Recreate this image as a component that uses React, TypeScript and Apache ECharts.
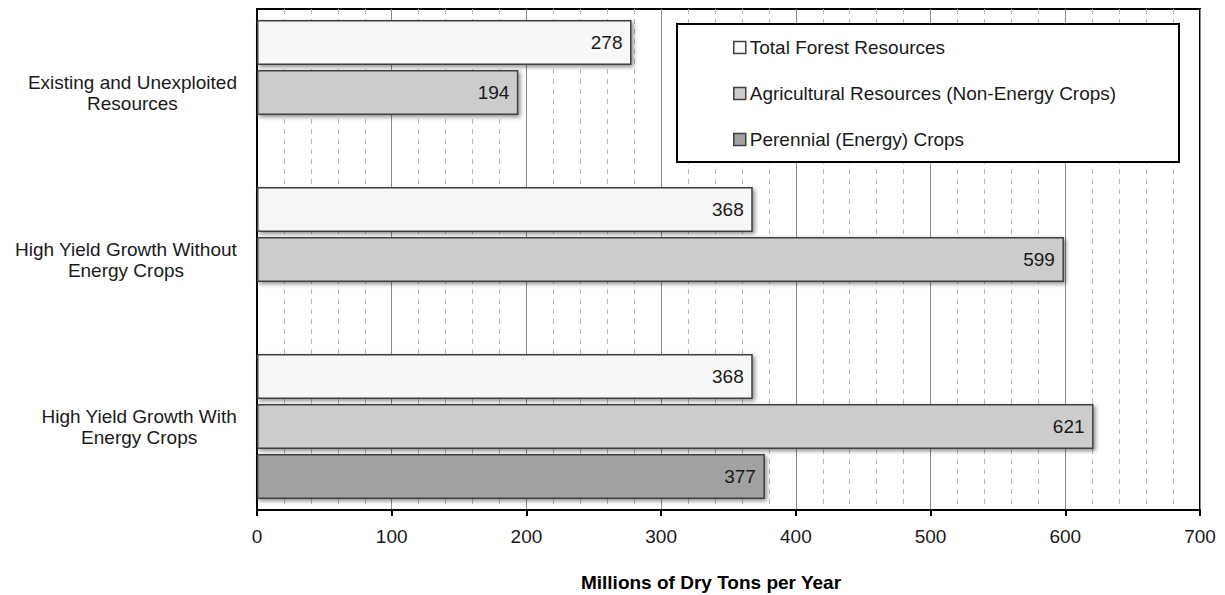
import React, { useEffect, useRef } from "react";
import * as echarts from "echarts";

const categories = [
  "Existing and Unexploited\nResources",
  "High Yield Growth Without\nEnergy Crops",
  "High Yield Growth With\nEnergy Crops",
];
const seriesNames = [
  "Total Forest Resources",
  "Agricultural Resources (Non-Energy Crops)",
  "Perennial (Energy) Crops",
];
const forest = [278, 368, 368];
const agricultural = [194, 599, 621];
const perennial: (number | null)[] = [null, null, 377];
const xTicks = { min: 0, max: 700, interval: 100 };
const axisTitle = "Millions of Dry Tons per Year";

const colors = ["#f7f7f7", "#cccccc", "#a2a2a2"];
const FONT = "Liberation Sans, Arial, sans-serif";
const FS = 19;

export default function App() {
  const ref = useRef<HTMLDivElement>(null);
  useEffect(() => {
    if (!ref.current) return;
    const chart = echarts.init(ref.current, null, { renderer: "svg" });
    const mk = (name: string, data: (number | null)[], color: string) => ({
      name,
      type: "bar",
      data,
      barWidth: 45,
      barGap: "11%",
      z: 3,
      itemStyle: {
        color,
        borderColor: "#404040",
        borderWidth: 1.5,
        shadowColor: "rgba(0,0,0,0.45)",
        shadowBlur: 4,
        shadowOffsetX: 2,
        shadowOffsetY: 2,
      },
      label: {
        show: true,
        position: "insideRight",
        distance: 9,
        fontSize: FS,
        fontFamily: FONT,
        color: "#1a1a1a",
      },
    });
    chart.setOption({
      animation: false,
      backgroundColor: "#fff",
      textStyle: { fontFamily: FONT },
      grid: {
        left: 257,
        top: 9,
        right: 25,
        bottom: 85,
        show: true,
        borderColor: "#000",
        borderWidth: 2,
        backgroundColor: "transparent",
      },
      legend: {
        orient: "vertical",
        left: 728,
        top: 33,
        itemWidth: 12,
        itemHeight: 12,
        itemGap: 27,
        icon: "rect",
        z: 5,
        data: seriesNames,
        textStyle: { fontSize: FS, fontFamily: FONT, color: "#1a1a1a", padding: [0, 0, 0, -1] },
        itemStyle: { borderColor: "#404040", borderWidth: 1.5, shadowBlur: 0, shadowOffsetX: 0, shadowOffsetY: 0 },
      },
      xAxis: {
        type: "value",
        min: xTicks.min,
        max: xTicks.max,
        interval: xTicks.interval,
        axisLine: { show: true, lineStyle: { color: "#000", width: 2 } },
        axisTick: { show: true, length: 6, lineStyle: { color: "#000", width: 2 } },
        axisLabel: { fontSize: FS, fontFamily: FONT, color: "#1a1a1a", margin: 17 },
        splitLine: { show: true, lineStyle: { color: "#8a8a8a", width: 1 } },
        minorTick: { show: false, splitNumber: 5 },
        minorSplitLine: { show: true, lineStyle: { color: "#b8b8b8", width: 1, type: [5, 5] } },
      },
      yAxis: {
        type: "category",
        inverse: true,
        data: categories,
        axisLine: { show: true, lineStyle: { color: "#000", width: 2 } },
        axisTick: { show: false },
        axisLabel: {
          margin: 20,
          fontSize: FS,
          fontFamily: FONT,
          color: "#1a1a1a",
          lineHeight: 21,
          formatter: (v: string) =>
            v
              .split("\n")
              .map((s) => `{c|${s}}`)
              .join("\n"),
          rich: { c: { align: "center", fontSize: FS, fontFamily: FONT, color: "#1a1a1a", lineHeight: 21 } },
        },
      },
      graphic: [
        {
          type: "rect",
          z: 4,
          shape: { x: 677, y: 24, width: 502, height: 138 },
          style: { fill: "#fff", stroke: "#000", lineWidth: 2 },
        },
        {
          type: "text",
          x: 711,
          y: 582,
          style: {
            text: axisTitle,
            textAlign: "center",
            textVerticalAlign: "middle",
            font: `bold 19px ${FONT}`,
            fill: "#000",
          },
        },
      ],
      series: [
        mk(seriesNames[0], forest, colors[0]),
        mk(seriesNames[1], agricultural, colors[1]),
        mk(seriesNames[2], perennial, colors[2]),
      ],
    });
    return () => chart.dispose();
  }, []);
  return (
    <div
      ref={ref}
      style={{ position: "fixed", left: 0, top: 0, width: 1225, height: 595, background: "#fff" }}
    />
  );
}
